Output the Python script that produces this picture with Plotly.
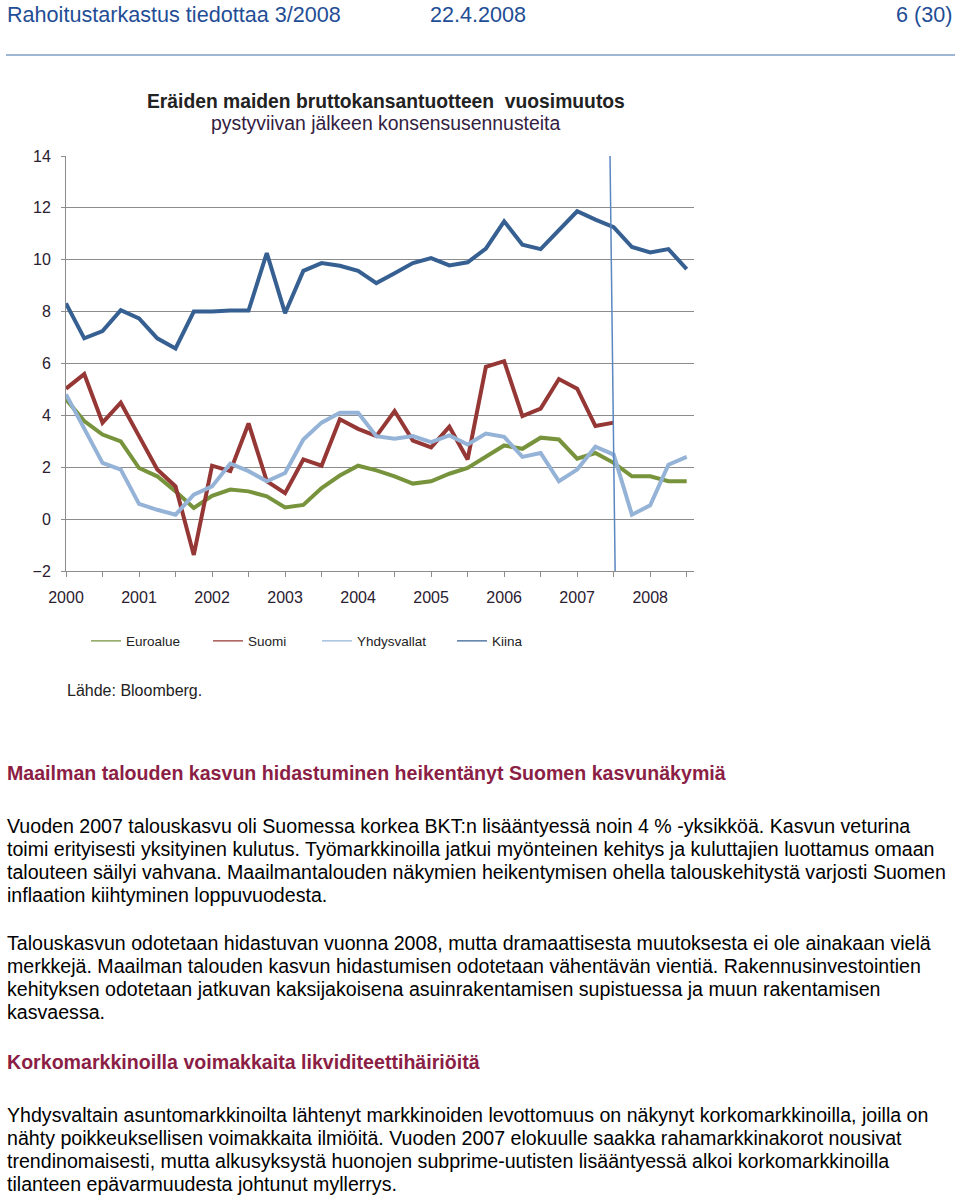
import plotly.graph_objects as go

W, H = 960, 1197

# ---------------- data ----------------
quarters = [2000 + i / 4 for i in range(35)]  # 2000Q1 .. 2008Q3

euroalue = [4.62, 3.78, 3.26, 3.00, 1.97, 1.65, 1.07, 0.43, 0.90, 1.14, 1.07, 0.88,
            0.45, 0.55, 1.20, 1.68, 2.06, 1.88, 1.65, 1.37, 1.46, 1.75, 1.97, 2.42,
            2.84, 2.71, 3.14, 3.07, 2.33, 2.55, 2.17, 1.65, 1.65, 1.46, 1.46]
suomi = [5.03, 5.59, 3.72, 4.49, 3.20, 1.91, 1.26, -1.38, 2.06, 1.85, 3.69, 1.46,
         1.00, 2.30, 2.06, 3.85, 3.48, 3.20, 4.17, 3.03, 2.77, 3.56, 2.30, 5.87,
         6.09, 3.97, 4.26, 5.40, 5.03, 3.59, 3.72]
yhdysvallat = [4.81, 3.50, 2.17, 1.91, 0.59, 0.36, 0.17, 0.94, 1.26, 2.14, 1.85, 1.46,
               1.78, 3.07, 3.72, 4.10, 4.10, 3.20, 3.10, 3.20, 2.97, 3.23, 2.88, 3.30,
               3.17, 2.40, 2.55, 1.46, 1.91, 2.79, 2.49, 0.17, 0.53, 2.10, 2.40]
kiina = [8.32, 6.97, 7.25, 8.06, 7.74, 6.97, 6.58, 8.00, 8.00, 8.04, 8.04, 10.26,
         7.94, 9.57, 9.87, 9.77, 9.57, 9.10, 9.48, 9.87, 10.06, 9.78, 9.90, 10.43,
         11.48, 10.58, 10.41, 11.16, 11.87, 11.55, 11.26, 10.49, 10.28, 10.41, 9.64]

series_names = ["Euroalue", "Suomi", "Yhdysvallat", "Kiina"]
series_values = [euroalue, suomi, yhdysvallat, kiina]
series_colors = ["#77933C", "#953735", "#95B3D7", "#376092"]
legend_widths = [77, 64, 90, 50]

half_ticks = [2000 + k / 2 for k in range(18)]
y_ticks = [-2, 0, 2, 4, 6, 8, 10, 12, 14]
FORECAST_START = 2007.45


def px_x(p):
    return p / W


def px_y(p):
    return 1 - p / H


fig = go.Figure()

for name, vals, col in zip(series_names, series_values, series_colors):
    fig.add_trace(go.Scatter(x=quarters[:len(vals)], y=vals, mode="lines", name=name,
                             line=dict(color=col, width=4), showlegend=False,
                             hoverinfo="skip"))
for name, col, lw in zip(series_names, series_colors, legend_widths):
    fig.add_trace(go.Scatter(x=[None], y=[None], mode="lines", name=name,
                             line=dict(color=col, width=1.3), showlegend=True,
                             legendwidth=lw))

fig.add_shape(type="line", xref="x", yref="y", x0=FORECAST_START, x1=FORECAST_START + 0.07,
              y0=14, y1=-2, line=dict(color="#5B86BF", width=1.5))

tick_text = [str(int(t)) if float(t).is_integer() else "" for t in half_ticks]
tick_font = dict(size=16, color="#2a2030")

fig.update_layout(
    width=W, height=H,
    margin=dict(l=0, r=0, t=0, b=0, pad=0),
    paper_bgcolor="white", plot_bgcolor="white",
    font=dict(family="Liberation Sans, Arial, sans-serif", color="#222222"),
    xaxis=dict(domain=[px_x(66), px_x(694)], range=[2000, 2008.6],
               tickmode="array", tickvals=half_ticks, ticktext=tick_text,
               ticks="outside", ticklen=5, tickcolor="#8C8C8C", ticklabelstandoff=7,
               showgrid=False, zeroline=False, showline=True, linecolor="#8C8C8C",
               linewidth=1, tickfont=tick_font, automargin=False),
    yaxis=dict(domain=[px_y(571), px_y(156)], range=[-2, 14],
               tickmode="array", tickvals=y_ticks,
               ticks="outside", ticklen=4, tickcolor="#8C8C8C", ticklabelstandoff=7,
               showgrid=True, gridcolor="#8C8C8C", gridwidth=1,
               zeroline=False, showline=True, linecolor="#8C8C8C", linewidth=1,
               tickfont=tick_font, automargin=False),
    legend=dict(orientation="h", x=px_x(86), y=px_y(641), xanchor="left", yanchor="middle",
                font=dict(size=13.5, color="#222222"), bgcolor="rgba(0,0,0,0)",
                tracegroupgap=0),
    showlegend=True,
)

ann = []


def add_text(text, x, y, size, color="#000000", bold=False, xanchor="left"):
    t = f"<b>{text}</b>" if bold else text
    ann.append(dict(text=t, x=px_x(x), y=px_y(y), xref="paper", yref="paper",
                    xanchor=xanchor, yanchor="middle", showarrow=False, borderpad=0,
                    font=dict(size=size, color=color,
                              family="Liberation Sans, Arial, sans-serif")))


# page header
hdr_col = "#1F4E96"
add_text("Rahoitustarkastus tiedottaa 3/2008", 6, 15, 21.6, hdr_col)
add_text("22.4.2008", 429, 15, 21.6, hdr_col)
add_text("6 (30)", 953, 15, 21.6, hdr_col, xanchor="right")

# chart titles
add_text("Eräiden maiden bruttokansantuotteen  vuosimuutos", 386, 101, 19.3, "#222222", bold=True,
         xanchor="center")
add_text("pystyviivan jälkeen konsensusennusteita", 385, 123, 19.4, "#33203f", xanchor="center")
add_text("Lähde: Bloomberg.", 66, 690, 16, "#222222")

# body text
head_col = "#8B1E45"
add_text("Maailman talouden kasvun hidastuminen heikentänyt Suomen kasvunäkymiä", 6, 773, 19.6,
         head_col, bold=True)
p1 = ["Vuoden 2007 talouskasvu oli Suomessa korkea BKT:n lisääntyessä noin 4 % -yksikköä. Kasvun veturina",
      "toimi erityisesti yksityinen kulutus. Työmarkkinoilla jatkui myönteinen kehitys ja kuluttajien luottamus omaan",
      "talouteen säilyi vahvana. Maailmantalouden näkymien heikentymisen ohella talouskehitystä varjosti Suomen",
      "inflaation kiihtyminen loppuvuodesta."]
p2 = ["Talouskasvun odotetaan hidastuvan vuonna 2008, mutta dramaattisesta muutoksesta ei ole ainakaan vielä",
      "merkkejä. Maailman talouden kasvun hidastumisen odotetaan vähentävän vientiä. Rakennusinvestointien",
      "kehityksen odotetaan jatkuvan kaksijakoisena asuinrakentamisen supistuessa ja muun rakentamisen",
      "kasvaessa."]
add_text("Korkomarkkinoilla voimakkaita likviditeettihäiriöitä", 6, 1062, 19.6, head_col, bold=True)
p3 = ["Yhdysvaltain asuntomarkkinoilta lähtenyt markkinoiden levottomuus on näkynyt korkomarkkinoilla, joilla on",
      "nähty poikkeuksellisen voimakkaita ilmiöitä. Vuoden 2007 elokuulle saakka rahamarkkinakorot nousivat",
      "trendinomaisesti, mutta alkusyksystä huonojen subprime-uutisten lisääntyessä alkoi korkomarkkinoilla",
      "tilanteen epävarmuudesta johtunut myllerrys."]
for lines, y0 in ((p1, 826), (p2, 943), (p3, 1115)):
    for k, line in enumerate(lines):
        add_text(line, 6, y0 + 23 * k, 19.6)

fig.update_layout(annotations=ann)

fig.add_shape(type="line", xref="paper", yref="paper", x0=px_x(6), x1=px_x(955),
              y0=px_y(55), y1=px_y(55), line=dict(color="#3F6FAA", width=1.2))

# the page is exactly the window size: drop the browser's default body margin
fig.write_html("out.html", config={"displayModeBar": False},
               post_script="document.body.style.margin='0';document.body.style.overflow='hidden';")
